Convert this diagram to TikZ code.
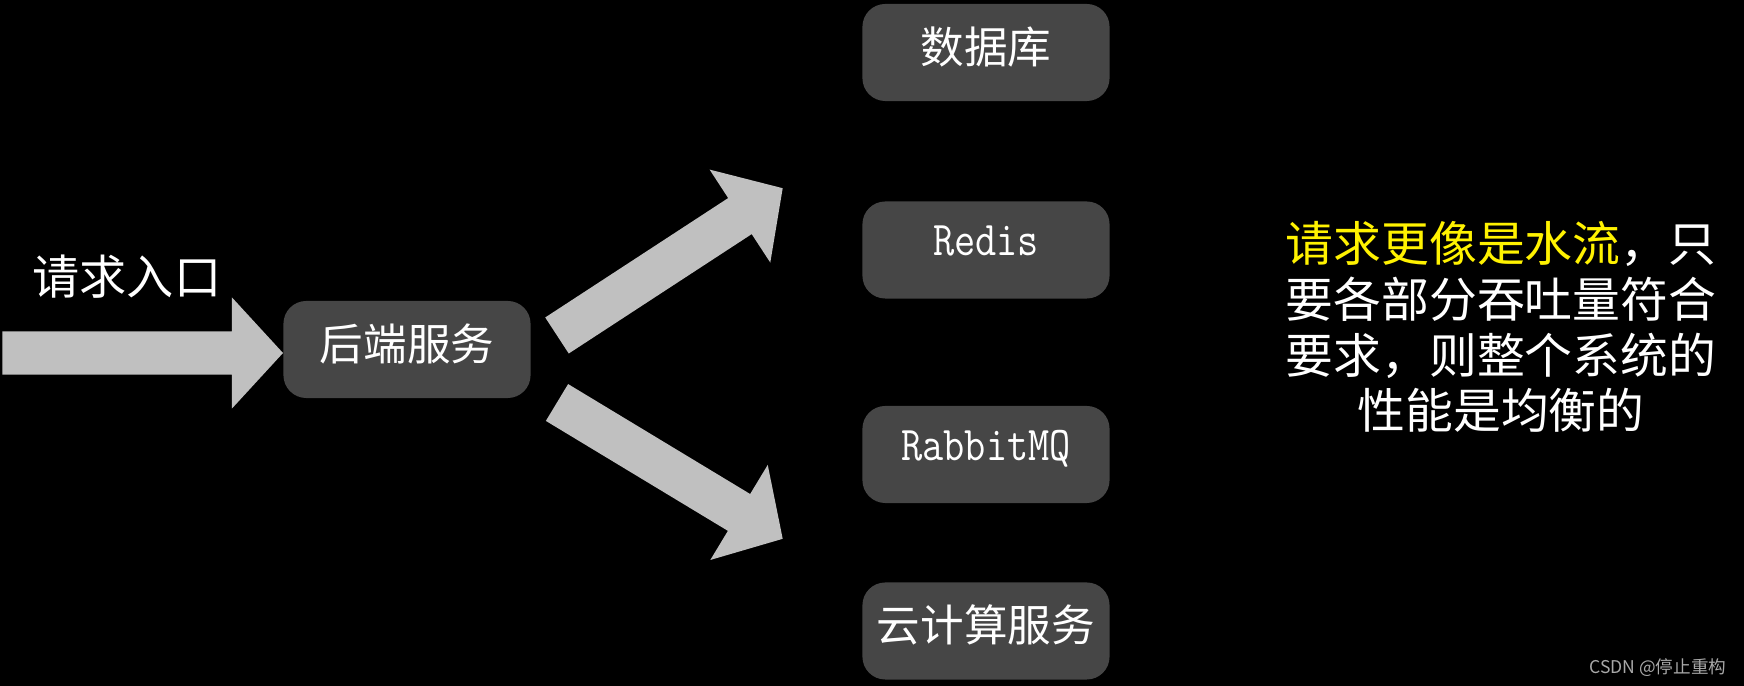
\documentclass[tikz,border=0pt]{standalone}
\usepackage{fontspec}
\newfontfamily\cjk{Noto Sans CJK SC}
\usetikzlibrary{calc}
\definecolor{boxgray}{HTML}{464646}
\definecolor{arrowgray}{HTML}{C0C0C0}
\definecolor{wmgray}{HTML}{A8A8A8}
\newcommand\blockarr[2]{%
  \fill[arrowgray] let \p1=(#1), \p2=(#2), \n1={atan2(\y2-\y1,\x2-\x1)}, \n2={veclen(\x2-\x1,\y2-\y1)} in
  [shift={(\p1)}, rotate=\n1]
  (0pt,-6.12pt) -- ({\n2*1pt-14.51pt},-6.12pt) -- ({\n2*1pt-14.51pt},-15.79pt) -- ({\n2*1pt},0pt)
  -- ({\n2*1pt-14.51pt},15.79pt) -- ({\n2*1pt-14.51pt},6.12pt) -- (0pt,6.12pt) -- cycle;}
\newcommand\tallmono[1]{\scalebox{1}[1.18]{#1}}
\tikzset{
  box/.style={draw=none, fill=boxgray, rounded corners=6.5pt, minimum width=2.47cm, minimum height=0.97cm, inner sep=0pt, text=white},
  cjkbox/.style={box, font=\cjk\fontsize{12.4}{14}\selectfont, text height=9pt, text depth=3pt},
  monobox/.style={box, font=\ttfamily\fontsize{11.7}{13}\selectfont, text height=7.6pt, text depth=4.2pt},
}
\begin{document}
\begin{tikzpicture}[x=0.01cm, y=0.01cm]
\fill[black] (0,0) rectangle (1744,-686);
\useasboundingbox (0,0) rectangle (1744,-686);

\node[cjkbox] (be) at (407,-349.5) {后端服务};
\node[cjkbox] (db) at (986,-52.5) {数据库};
\node[monobox] (redis) at (986,-250) {\tallmono{Redis}};
\node[monobox] (mq) at (986,-454.5) {\tallmono{RabbitMQ}};
\node[cjkbox] (cloud) at (986,-631) {云计算服务};

\node[font=\cjk\fontsize{13.4}{16}\selectfont, text=white, inner sep=0pt] (entry) at (127,-277) {请求入口};

\node[font=\cjk\fontsize{13.6}{15.9}\selectfont, text=white, align=center, inner sep=0pt] (note) at (1501,-327)
  {\textcolor{yellow}{请求更像是水流}，只\\要各部分吞吐量符合\\要求，则整个系统的\\性能是均衡的};

\node[font=\cjk\fontsize{5.0}{6}\selectfont, text=wmgray, anchor=east, inner sep=0pt] (wm) at (1727,-668) {CSDN @停止重构};

\coordinate (in0) at (2.5,-353);
\coordinate (in1) at (283,-353);
\coordinate (u0) at (557,-335.5);
\coordinate (u1) at (783,-188);
\coordinate (d0) at (557,-402.5);
\coordinate (d1) at (783,-539);
\blockarr{in0}{in1}
\blockarr{u0}{u1}
\blockarr{d0}{d1}
\end{tikzpicture}
\end{document}
